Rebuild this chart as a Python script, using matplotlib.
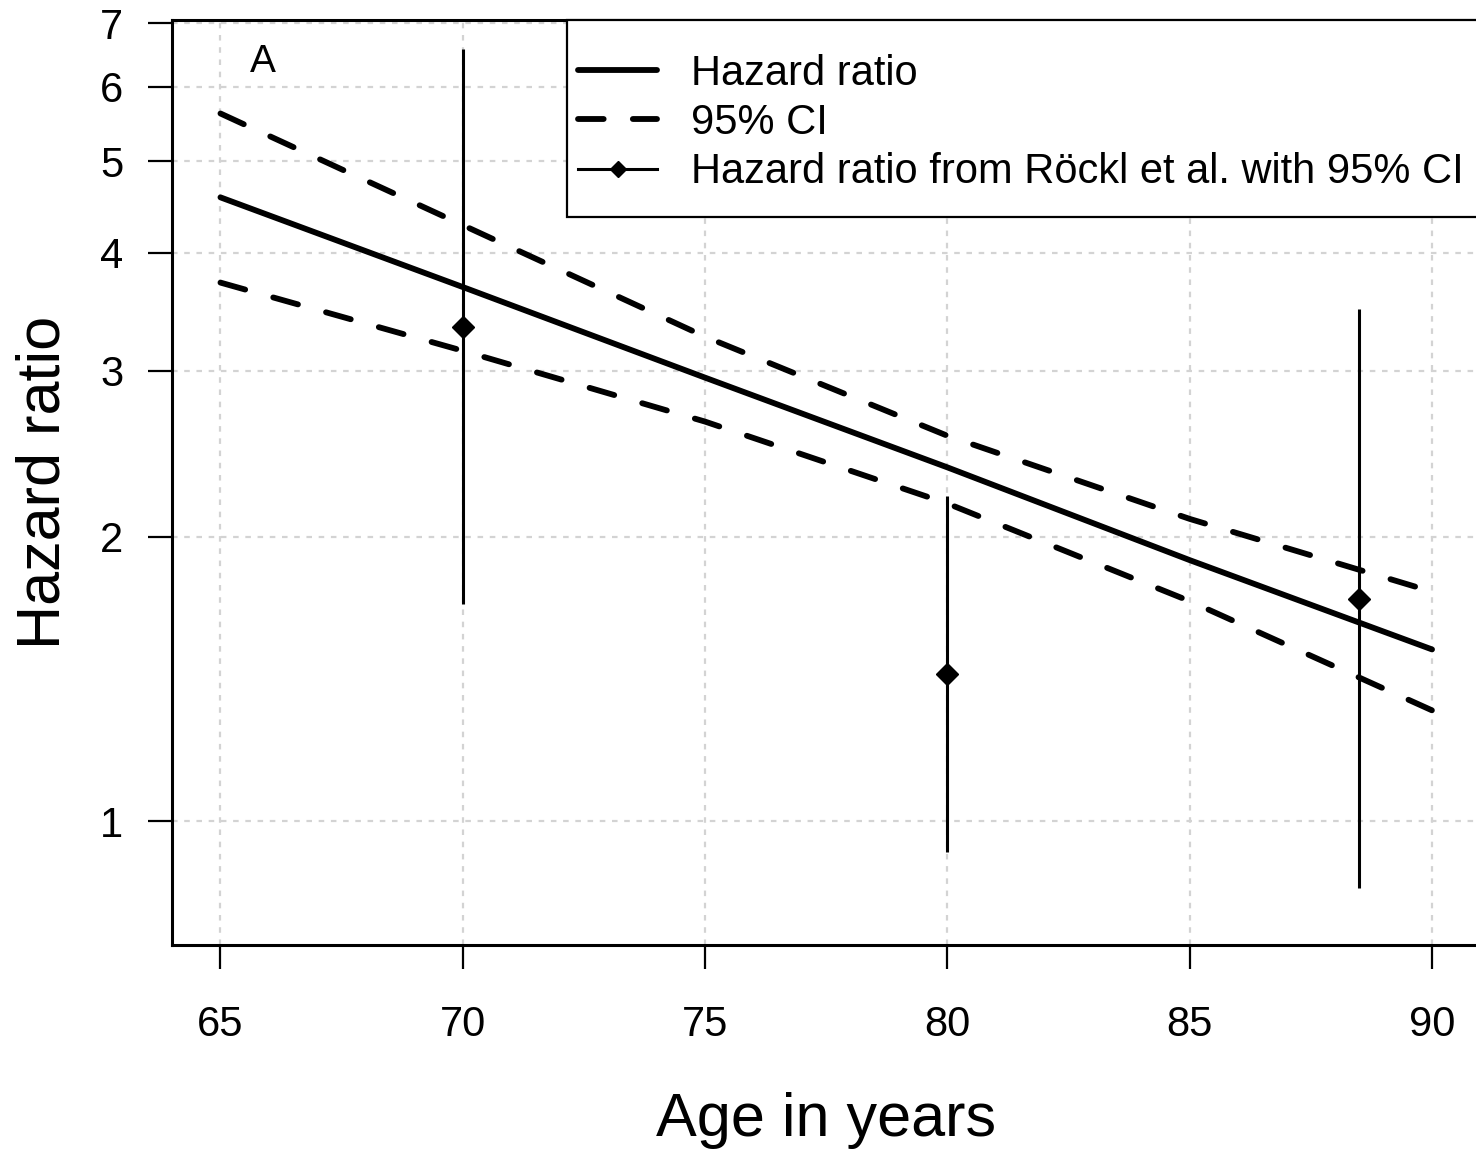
import numpy as np
import matplotlib
matplotlib.use("Agg")
import matplotlib.pyplot as plt
from matplotlib.lines import Line2D
from matplotlib.patches import Rectangle

plt.rcParams['font.family'] = ['Liberation Sans', 'DejaVu Sans']

# fitted hazard ratio with 95% CI
age = [65, 70, 75, 80, 85, 90]
hr = [4.58, 3.68, 2.95, 2.37, 1.89, 1.52]
ci_upper = [5.62, 4.28, 3.26, 2.56, 2.09, 1.75]
ci_lower = [3.72, 3.15, 2.65, 2.17, 1.71, 1.31]

# Roeckl et al. estimates
rockl_age = [70, 80, 88.5]
rockl_hr = [3.34, 1.43, 1.72]
rockl_lo = [1.70, 0.927, 0.85]
rockl_hi = [6.57, 2.21, 3.49]

x_ticks = [65, 70, 75, 80, 85, 90]
y_ticks = [1, 2, 3, 4, 5, 6, 7]

W, H = 1476, 1149
ax_l, ax_r, ax_t, ax_b = 172, 1480.5, 20, 945
fig = plt.figure(figsize=(W / 100, H / 100), dpi=100)
ax = fig.add_axes([ax_l / W, 1 - ax_b / H, (ax_r - ax_l) / W, (ax_b - ax_t) / H])

ax.set_yscale('log')
ax.set_xlim(64, 91)
ax.set_ylim(0.739, 7.06)

lw_main = 4.2
dash = (0, (4.4, 5.0))
ax.plot(age, hr, color='black', lw=lw_main, solid_capstyle='round', zorder=3)
for band in (ci_upper, ci_lower):
    ax.plot(age, band, color='black', lw=lw_main, linestyle=dash,
            dash_capstyle='round', zorder=3)

yerr = [np.array(rockl_hr) - np.array(rockl_lo), np.array(rockl_hi) - np.array(rockl_hr)]
ax.errorbar(rockl_age, rockl_hr, yerr=yerr, fmt='D', color='black', ecolor='black',
            elinewidth=2.2, capsize=0, ms=11, zorder=4)

ax.set_xticks(x_ticks)
ax.set_xticklabels([str(v) for v in x_ticks])
ax.set_yticks(y_ticks)
ax.set_yticklabels([str(v) for v in y_ticks])
ax.minorticks_off()
ax.tick_params(axis='both', direction='out', length=17, width=1.6, labelsize=30)
ax.tick_params(axis='x', pad=26)
ax.tick_params(axis='y', pad=18)
ax.grid(True, color='#d3d3d3', linestyle=(0, (2.5, 3)), lw=1.6, zorder=0)
ax.set_axisbelow(True)

for side in ax.spines.values():
    side.set_linewidth(2.2)

ax.set_xlabel('Age in years', fontsize=44, labelpad=34)
ax.set_ylabel('Hazard ratio', fontsize=44, labelpad=20)

ax.text(65.88, 6.37, 'A', fontsize=28, ha='center', va='center')

# legend frame drawn separately so the box matches the R layout
def ax_x(px):
    return (px - ax_l) / (ax_r - ax_l)

def ax_y(py):
    return (ax_b - py) / (ax_b - ax_t)

ax.add_patch(Rectangle((ax_x(567), ax_y(217)), 1 - ax_x(567), 1 - ax_y(217),
                       transform=ax.transAxes, facecolor='white', edgecolor='black',
                       lw=1.6, zorder=5, clip_on=False))

handles = [
    Line2D([], [], color='black', lw=lw_main, solid_capstyle='round'),
    Line2D([], [], color='black', lw=lw_main, linestyle=dash, dash_capstyle='round'),
    Line2D([], [], color='black', lw=2.2, marker='D', ms=8),
]
labels = ['Hazard ratio', '95% CI', 'Hazard ratio from Röckl et al. with 95% CI']
leg = ax.legend(handles, labels, loc='center left', bbox_to_anchor=(ax_x(578), ax_y(123)),
                borderaxespad=0, borderpad=0, fontsize=30, frameon=False,
                handlelength=1.9, handletextpad=0.8, labelspacing=0.22)
leg.set_zorder(6)

fig.savefig('out.png', dpi=100)
